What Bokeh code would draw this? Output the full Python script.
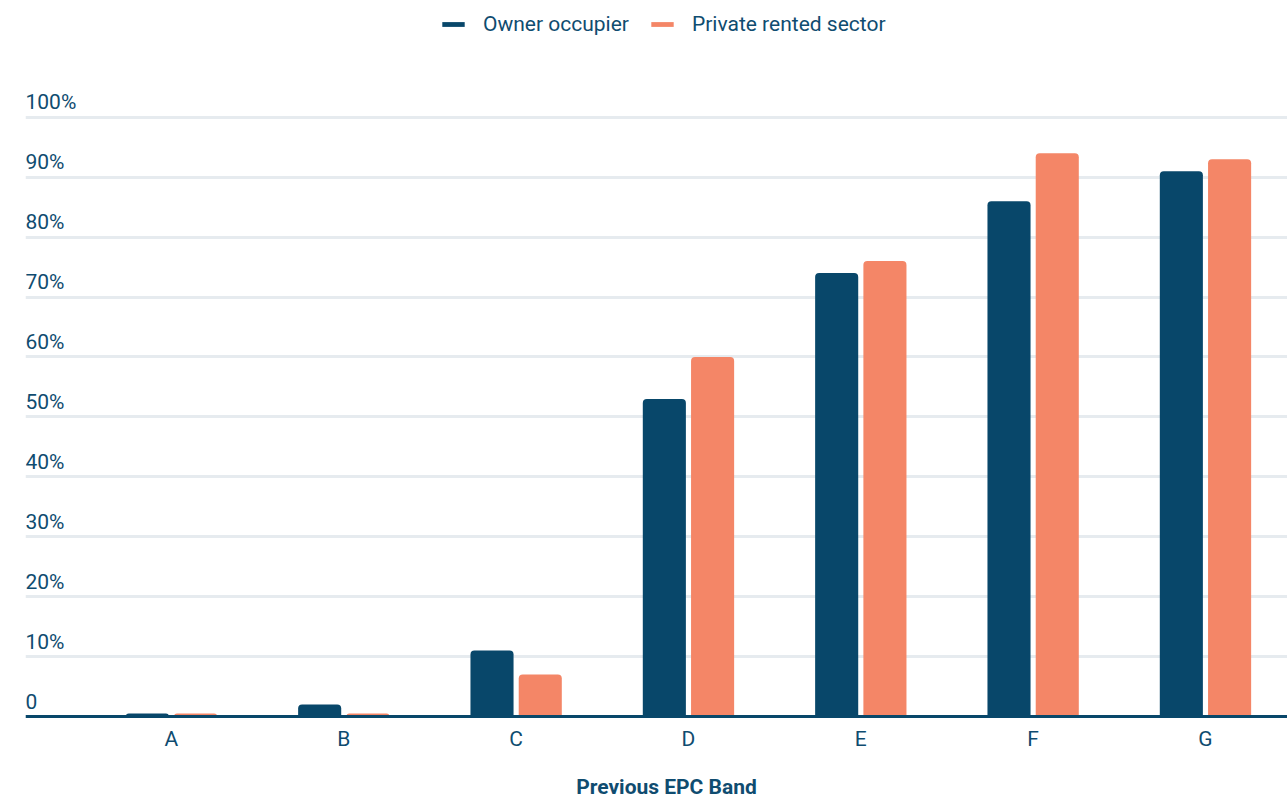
from bokeh.plotting import figure
from bokeh.models import (ColumnDataSource, Range1d, FixedTicker, Legend, LegendItem)
from bokeh.core.properties import value
from bokeh.embed import file_html
from bokeh.resources import INLINE

# Share of homes by previous EPC band
categories = ["A", "B", "C", "D", "E", "F", "G"]
owner_occupier = [0.5, 2, 11, 53, 74, 86, 91]
private_rented = [0.5, 0.5, 7, 60, 76, 94, 93]
y_ticks = [0, 10, 20, 30, 40, 50, 60, 70, 80, 90, 100]
y_tick_labels = ["0", "10%", "20%", "30%", "40%", "50%", "60%", "70%", "80%", "90%", "100%"]

DARK = "#08476a"
ORANGE = "#f48667"
TEXT = "#0f4c70"
GRID = "#e6ebef"
FONT = "Roboto"
FS = "21px"

centers = [i + 0.5 for i in range(len(categories))]
src = ColumnDataSource(dict(
    x_owner=[c - 0.14 for c in centers],
    x_private=[c + 0.14 for c in centers],
    owner=owner_occupier,
    private=private_rented,
))

# the frame fills the canvas below the left margin; the category axis sits at y=0
x0, x1 = -0.347, 6.976
y0, y1 = -13.86, 119.5
p = figure(width=1287, height=799, output_backend="svg", toolbar_location=None,
           x_range=Range1d(x0, x1), y_range=Range1d(y0, y1),
           min_border_left=25, min_border_right=0, min_border_top=0,
           min_border_bottom=0, outline_line_color=None,
           background_fill_color="white", border_fill_color="white")

p.ygrid.ticker = FixedTicker(ticks=y_ticks)
p.ygrid.grid_line_color = GRID
p.ygrid.grid_line_width = 3
p.xgrid.visible = False
p.yaxis.visible = False

r_owner = p.vbar(x="x_owner", top="owner", bottom=0, width=0.25, source=src,
                 fill_color=DARK, line_color=None, border_radius=(4, 4, 0, 0))
r_private = p.vbar(x="x_private", top="private", bottom=0, width=0.25, source=src,
                   fill_color=ORANGE, line_color=None, border_radius=(4, 4, 0, 0))

ax = p.xaxis[0]
ax.fixed_location = 0
ax.ticker = FixedTicker(ticks=centers)
ax.major_label_overrides = {c: lab for c, lab in zip(centers, categories)}
ax.axis_line_color = DARK
ax.axis_line_width = 3
ax.major_tick_line_color = None
ax.minor_tick_line_color = None
ax.major_tick_out = 0
ax.major_label_standoff = 11
ax.major_label_text_font = FONT
ax.major_label_text_font_size = FS
ax.major_label_text_color = TEXT

# axis title under the category labels
p.text(x=[x0 + (666 - 25) / 172.33], y=[-11.85], text=["Previous EPC Band"],
       text_font=value(FONT), text_font_style="bold", text_font_size=FS,
       text_color=TEXT, text_align="center", text_baseline="middle")

# value labels sitting just above each grid line
p.text(x=[x0] * len(y_ticks), y=y_ticks, text=y_tick_labels,
       text_font=value(FONT), text_font_size=FS, text_color=TEXT,
       text_align="left", text_baseline="alphabetic", y_offset=-15)

legend = Legend(items=[LegendItem(label="Owner occupier", renderers=[r_owner]),
                       LegendItem(label="Private rented sector", renderers=[r_private])],
                orientation="horizontal", location=(414, 763),
                glyph_width=28, glyph_height=6, label_standoff=16, spacing=19,
                padding=0, margin=0, border_line_color=None,
                background_fill_alpha=0,
                label_text_font=FONT, label_text_font_size=FS,
                label_text_color=TEXT)
p.add_layout(legend, "center")

open("out.html", "w").write(file_html(p, INLINE))
